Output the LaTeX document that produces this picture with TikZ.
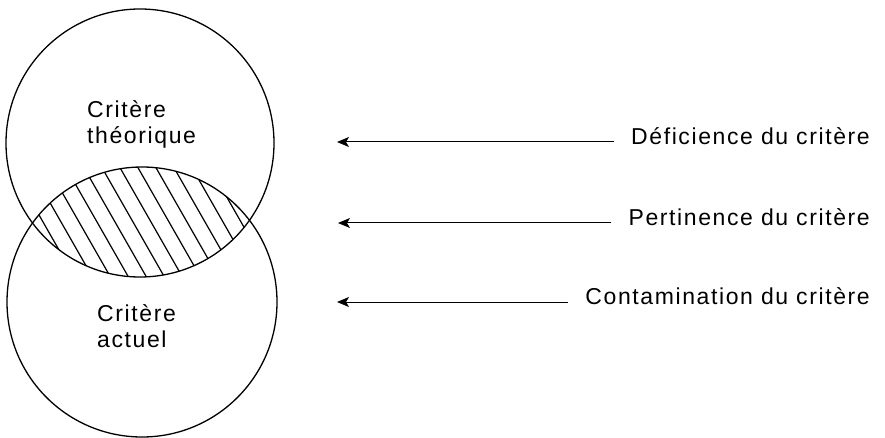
\documentclass[tikz,border=0pt]{standalone}
\usepackage{fontspec}
\setmainfont{Liberation Sans}[LetterSpace=7]
\usetikzlibrary{arrows.meta}
\tikzset{
  ring/.style={circle, draw, line width=1.3pt, inner sep=0pt},
  hatchline/.style={line width=1.2pt},
  lbl/.style={inner sep=0pt, align=left, font=\fontsize{23}{26}\selectfont},
  side/.style={inner sep=0pt, font=\fontsize{23}{26}\selectfont},
  pointer/.style={line width=1pt, -{Stealth[length=12pt,width=10pt,inset=3pt]}}
}
\begin{document}
\begin{tikzpicture}[x=1pt,y=-1pt]
\useasboundingbox (0,0) rectangle (885,438);
% circles
\node[ring, minimum size=268pt] (up) at (140,143) {};
\node[ring, minimum size=270pt] (lo) at (142,302) {};
% hatching of the overlap
\begin{scope}
  \clip (140,143) circle[radius=134];
  \clip (142,302) circle[radius=135];
  \foreach \k in {-6,...,10}
    \draw[hatchline] ({128.3+18*\k-66.7},160) -- ({128.3+18*\k+7.6},290);
\end{scope}
% labels in circles (base anchor = last line)
\node[lbl, anchor=base west] (lt) at (87,144) {Critère\\théorique};
\node[lbl, anchor=base west] (la) at (97,347) {Critère\\actuel};
% right side labels
\node[side, anchor=mid east] (t1) at (870,142) {Déficience du critère};
\node[side, anchor=mid east] (t2) at (870,223) {Pertinence du critère};
\node[side, anchor=mid east] (t3) at (870,302) {Contamination du critère};
\coordinate (e1) at (337,142);
\coordinate (e2) at (338,223);
\coordinate (e3) at (337,302);
\draw[pointer] ([xshift=-17pt]t1.mid west) -- (e1);
\draw[pointer] ([xshift=-17pt]t2.mid west) -- (e2);
\draw[pointer] ([xshift=-17pt]t3.mid west) -- (e3);
\end{tikzpicture}
\end{document}
